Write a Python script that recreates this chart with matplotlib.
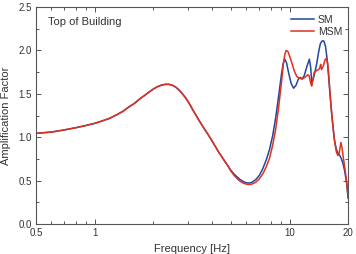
import numpy as np
import matplotlib
matplotlib.use('Agg')
import matplotlib.pyplot as plt
from matplotlib.ticker import FixedLocator, NullFormatter, MultipleLocator

plt.rcParams['font.family'] = ['Liberation Sans', 'DejaVu Sans']

# shared low-frequency part (both models agree)
f_low = [0.5, 0.6, 0.7, 0.8, 0.9, 1.0, 1.1, 1.2, 1.3, 1.4, 1.5, 1.6, 1.7, 1.8,
         1.9, 2.0, 2.1, 2.2, 2.3, 2.4, 2.5, 2.6, 2.7, 2.8, 2.9, 3.0, 3.1, 3.2,
         3.3, 3.4, 3.5, 3.6, 3.8, 4.0, 4.15, 4.3, 4.45, 4.6, 4.8]
a_low = [1.045, 1.06, 1.085, 1.11, 1.135, 1.16, 1.19, 1.22, 1.26, 1.30, 1.35,
         1.39, 1.44, 1.48, 1.52, 1.555, 1.583, 1.60, 1.61, 1.61, 1.60, 1.58,
         1.548, 1.51, 1.467, 1.42, 1.367, 1.31, 1.26, 1.21, 1.165, 1.12, 1.04,
         0.96, 0.90, 0.84, 0.79, 0.74, 0.68]

f_sm = [5.0, 5.2, 5.4, 5.6, 5.8, 6.0, 6.2, 6.4, 6.7, 7.0, 7.3, 7.6, 7.9, 8.2,
        8.5, 8.8, 9.1, 9.3, 9.45, 9.65, 9.9, 10.2, 10.5, 10.8, 11.1, 11.35,
        11.6, 11.9, 12.3, 12.65, 12.85, 13.0, 13.2, 13.5, 13.8, 14.1, 14.4,
        14.7, 15.0, 15.3, 15.6, 15.85, 16.1, 16.5, 17.0, 17.4, 17.7, 18.1,
        18.4, 18.8, 19.2, 19.6, 20.0]
a_sm = [0.62, 0.575, 0.54, 0.51, 0.49, 0.475, 0.472, 0.48, 0.51, 0.56, 0.64,
        0.74, 0.86, 1.02, 1.23, 1.48, 1.73, 1.86, 1.90, 1.86, 1.74, 1.62,
        1.565, 1.60, 1.67, 1.69, 1.67, 1.71, 1.82, 1.90, 1.80, 1.63, 1.66,
        1.75, 1.85, 1.98, 2.08, 2.11, 2.11, 2.05, 1.90, 1.72, 1.52, 1.25,
        0.97, 0.86, 0.82, 0.79, 0.76, 0.70, 0.61, 0.48, 0.30]

f_msm = [5.0, 5.2, 5.4, 5.6, 5.8, 6.0, 6.2, 6.4, 6.7, 7.0, 7.3, 7.6, 7.9, 8.2,
         8.5, 8.8, 9.1, 9.3, 9.45, 9.6, 9.8, 10.0, 10.3, 10.6, 10.9, 11.2,
         11.6, 12.0, 12.4, 12.6, 12.85, 13.0, 13.15, 13.4, 13.8, 14.1, 14.3,
         14.45, 14.6, 14.9, 15.2, 15.45, 15.7, 15.9, 16.1, 16.4, 16.8, 17.1,
         17.4, 17.7, 18.0, 18.35, 18.6, 18.9, 19.3, 19.7, 20.0]
a_msm = [0.61, 0.56, 0.52, 0.49, 0.47, 0.46, 0.455, 0.46, 0.48, 0.52, 0.58,
         0.66, 0.76, 0.91, 1.10, 1.35, 1.64, 1.84, 1.95, 2.00, 1.99, 1.94,
         1.85, 1.76, 1.70, 1.68, 1.675, 1.69, 1.72, 1.71, 1.62, 1.59, 1.65,
         1.75, 1.77, 1.78, 1.80, 1.84, 1.78, 1.82, 1.89, 1.91, 1.85, 1.72,
         1.55, 1.31, 1.07, 0.93, 0.83, 0.79, 0.82, 0.94, 0.88, 0.76, 0.62,
         0.46, 0.30]

sm_f = f_low + f_sm
sm_a = a_low + a_sm
msm_f = f_low + f_msm
msm_a = a_low + a_msm

gray = '#555555'
fig = plt.figure(figsize=(3.56, 2.54), dpi=100)
ax = fig.add_axes([0.101, 0.118, 0.877, 0.854])

ax.plot(sm_f, sm_a, color='#23479b', lw=1.1, label='SM')
ax.plot(msm_f, msm_a, color='#e2301f', lw=1.1, label='MSM')

ax.set_xscale('log')
ax.set_xlim(0.5, 20)
ax.set_ylim(0, 2.5)
ax.xaxis.set_major_locator(FixedLocator([0.5, 1, 10, 20]))
ax.xaxis.set_minor_locator(FixedLocator([0.6, 0.7, 0.8, 0.9, 2, 3, 4, 5, 6, 7, 8, 9]))
ax.xaxis.set_minor_formatter(NullFormatter())
ax.set_xticklabels(['0.5', '1', '10', '20'])
ax.yaxis.set_major_locator(MultipleLocator(0.5))
ax.yaxis.set_minor_locator(MultipleLocator(0.25))
ax.yaxis.set_major_formatter(plt.FormatStrFormatter('%.1f'))

ax.tick_params(which='both', direction='in', top=True, right=True,
               colors=gray, labelcolor='#333333', labelsize=7, width=0.7)
ax.tick_params(which='major', length=3.5, pad=3)
ax.tick_params(which='minor', length=2)
for s in ax.spines.values():
    s.set_color(gray)
    s.set_linewidth(0.8)

ax.set_xlabel('Frequency [Hz]', fontsize=8, color='#333333', labelpad=4)
ax.set_ylabel('Amplification Factor', fontsize=8, color='#333333', labelpad=5)
ax.text(0.04, 0.93, 'Top of Building', transform=ax.transAxes, fontsize=8,
        color='#333333', va='center')

ax.legend(loc='upper right', bbox_to_anchor=(1.0, 0.99), frameon=False,
          fontsize=7.5, handlelength=2.2, handletextpad=0.4, labelspacing=0.2,
          borderaxespad=0.15, labelcolor='#333333')

fig.savefig('out.png', dpi=100)
